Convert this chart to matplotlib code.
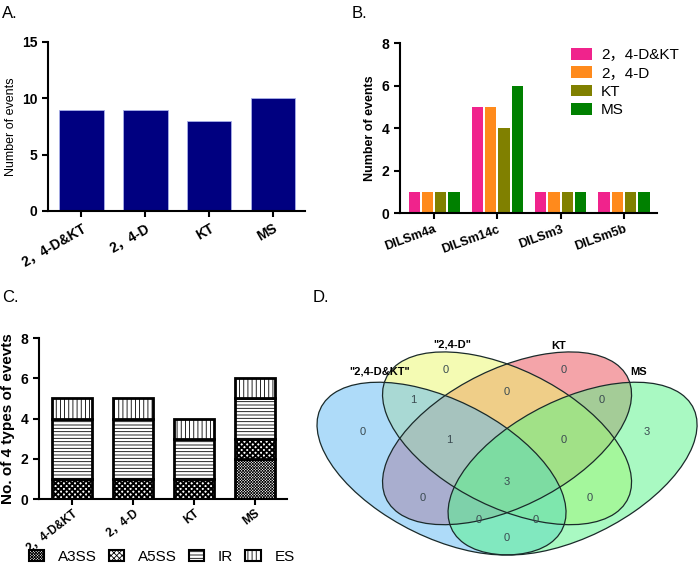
import numpy as np
import matplotlib.pyplot as plt
from matplotlib.patches import Ellipse, Patch

plt.rcParams['font.family'] = ['Liberation Sans', 'Noto Sans CJK SC', 'DejaVu Sans']
plt.rcParams['hatch.linewidth'] = 0.6

# %% data
groups = ['2，4-D&KT', '2，4-D', 'KT', 'MS']
events_total = [9, 9, 8, 10]

genes = ['DILSm4a', 'DILSm14c', 'DILSm3', 'DILSm5b']
gene_counts = {
    '2，4-D&KT': [1, 5, 1, 1],
    '2，4-D': [1, 5, 1, 1],
    'KT': [1, 4, 1, 1],
    'MS': [1, 6, 1, 1],
}
gene_colors = ['#F0238C', '#FF8A1C', '#808000', '#008000']

types = ['A3SS', 'A5SS', 'IR', 'ES']
a3ss = [0, 0, 0, 2]
a5ss = [1, 1, 1, 1]
ir = [3, 3, 2, 2]
es = [1, 1, 1, 1]
type_hatches = ['xxxxxxxxxxxx', 'xxxxxx', '-----', '||||']
hatch_lw = [0.5, 1.4, 0.6, 0.6]

venn_names = ['"2,4-D&KT"', '"2,4-D"', 'KT', 'MS']
venn_colors = ['#5FB9F5', '#EBF969', '#EB4B55', '#55F587']
# region counts with label positions (unit square of the venn layout)
venn_counts = [0, 0, 0, 3, 1, 0, 0, 1, 0, 3, 0, 0, 0, 0, 0]
venn_pos = [(0.170, 0.591), (0.360, 0.796), (0.630, 0.796), (0.820, 0.591),
            (0.285, 0.697), (0.500, 0.723), (0.717, 0.697),
            (0.367, 0.565), (0.630, 0.565), (0.500, 0.426),
            (0.308, 0.373), (0.690, 0.373), (0.434, 0.301),
            (0.566, 0.301), (0.500, 0.241)]

fig = plt.figure(figsize=(7, 5.64), dpi=100)


def style_axes(ax, lw=1.5):
    for s in ['top', 'right']:
        ax.spines[s].set_visible(False)
    for s in ['left', 'bottom']:
        ax.spines[s].set_linewidth(lw)
    ax.tick_params(direction='out', length=4, width=lw, labelsize=10)
    for lab in ax.get_yticklabels():
        lab.set_fontweight('bold')


# %% A
axA = fig.add_axes([0.0686, 0.626, 0.367, 0.2996])
x = np.arange(len(groups))
axA.bar(x, events_total, width=0.7, color='#000080', edgecolor='#A8B0E8', linewidth=0.6)
axA.set_xlim(-0.52, 3.5)
axA.set_ylim(0, 15)
axA.set_yticks([0, 5, 10, 15])
axA.set_xticks(x)
axA.set_xticklabels(groups, rotation=30, ha='right', rotation_mode='anchor',
                    fontweight='bold')
axA.set_ylabel('Number of events', fontsize=9)
style_axes(axA)
for lab in axA.get_xticklabels():
    lab.set_fontweight('bold')

# %% B
axB = fig.add_axes([0.5714, 0.6223, 0.367, 0.3014])
xg = np.arange(len(genes))
offsets = [-0.315, -0.105, 0.105, 0.315]
for i, g in enumerate(groups):
    axB.bar(xg + offsets[i], gene_counts[g], width=0.18, color=gene_colors[i], label=g)
axB.set_xlim(-0.54, 3.52)
axB.set_ylim(0, 8)
axB.set_yticks([0, 2, 4, 6, 8])
axB.set_xticks(xg)
axB.set_xticklabels(genes, rotation=20, ha='right', rotation_mode='anchor',
                    fontweight='bold', fontsize=9)
axB.set_ylabel('Number of events', fontsize=9, fontweight='bold')
style_axes(axB)
for lab in axB.get_xticklabels():
    lab.set_fontsize(9)
axB.legend(loc='upper left', bbox_to_anchor=(0.815, 0.915), bbox_transform=fig.transFigure,
           frameon=False, fontsize=11, handlelength=1.4, handleheight=0.8,
           labelspacing=0.28, handletextpad=0.6, borderpad=0, borderaxespad=0)

# %% C
axC = fig.add_axes([0.0557, 0.1152, 0.354, 0.2855])
bottom = np.zeros(len(groups))
for vals, h, hl in zip([a3ss, a5ss, ir, es], type_hatches, hatch_lw):
    with plt.rc_context({'hatch.linewidth': hl}):
        axC.bar(x, vals, width=0.67, bottom=bottom, color='white', edgecolor='black',
                hatch=h, linewidth=2)
    bottom += np.array(vals)
axC.set_xlim(-0.54, 3.52)
axC.set_ylim(0, 8)
axC.set_yticks([0, 2, 4, 6, 8])
axC.set_xticks(x)
axC.set_xticklabels(groups, rotation=38, ha='right', rotation_mode='anchor',
                    fontweight='bold')
axC.set_ylabel('No. of 4 types of evevts', fontsize=11, fontweight='bold')
style_axes(axC)
axC.tick_params(axis='x', pad=2)
for lab in axC.get_xticklabels():
    lab.set_fontsize(8.5)
handles = []
for h, hl in zip(type_hatches, hatch_lw):
    with plt.rc_context({'hatch.linewidth': hl}):
        handles.append(Patch(facecolor='white', edgecolor='black', hatch=h, linewidth=1.5))
fig.legend(handles, types, loc='lower left', bbox_to_anchor=(0.041, 0.0), ncol=4,
           frameon=False, fontsize=11, handlelength=1.0, handleheight=0.7,
           columnspacing=0.8, handletextpad=0.9, borderpad=0, borderaxespad=0)

# %% D
axD = fig.add_axes([0.4529, 0.016, 0.5429, 0.36])
axD.set_xlim(0.065, 0.935)
axD.set_ylim(0.185, 0.855)
axD.axis('off')
centres = [(0.35, 0.47), (0.5, 0.57), (0.5, 0.57), (0.65, 0.47)]
angles = [-45, -45, 45, 45]
for k in [2, 1, 0, 3]:
    axD.add_patch(Ellipse(centres[k], 0.7, 0.4, angle=angles[k], facecolor=venn_colors[k],
                          alpha=0.5, edgecolor='none', clip_on=False))
for c, ang in zip(centres, angles):
    axD.add_patch(Ellipse(c, 0.7, 0.4, angle=ang, facecolor='none',
                          edgecolor='#1a2a2a', linewidth=0.9, clip_on=False))
for n, (px, py) in zip(venn_counts, venn_pos):
    axD.text(px, py, str(n), ha='center', va='center', fontsize=8, color='#3a4a50')
name_pos = [(0.209, 0.789), (0.374, 0.878), (0.617, 0.875), (0.802, 0.789)]
for nm, (px, py) in zip(venn_names, name_pos):
    axD.text(px, py, nm, ha='center', va='center', fontsize=8, fontweight='bold',
             clip_on=False)

# %% panel letters
for lt, (fx, fy) in zip(['A.', 'B.', 'C.', 'D.'],
                        [(0.003, 0.99), (0.503, 0.99), (0.003, 0.485), (0.447, 0.485)]):
    fig.text(fx, fy, lt, fontsize=12, va='top', ha='left')

fig.savefig('out.png', dpi=100)
